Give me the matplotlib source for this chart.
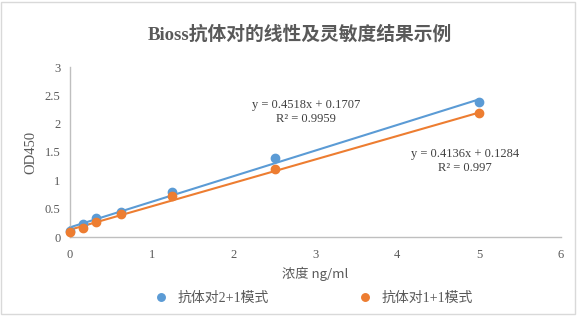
import matplotlib
matplotlib.use("Agg")
import matplotlib.pyplot as plt
from matplotlib.patches import Rectangle
import numpy as np

title = "Bioss抗体对的线性及灵敏度结果示例"
x_label = "浓度 ng/ml"
y_label = "OD450"
conc = [0, 0.156, 0.3125, 0.625, 1.25, 2.5, 5]
series_names = ["抗体对2+1模式", "抗体对1+1模式"]
od_21 = [0.11, 0.23, 0.33, 0.45, 0.80, 1.39, 2.39]
od_11 = [0.08, 0.165, 0.26, 0.41, 0.72, 1.20, 2.18]
slopes = [0.4518, 0.4136]
intercepts = [0.1707, 0.1284]
r2_labels = ["0.9959", "0.997"]
x_ticks = [0, 1, 2, 3, 4, 5, 6]
y_ticks = [0, 0.5, 1, 1.5, 2, 2.5, 3]
y_tick_labels = ["0", "0.5", "1", "1.5", "2", "2.5", "3"]

colors = ["#5B9BD5", "#ED7D31"]
grey = "#595959"
serif_cjk = ["Liberation Serif", "Noto Sans CJK SC"]

fig = plt.figure(figsize=(5.77, 3.16), dpi=100)
fig.patches.append(Rectangle((0.002, 0.005), 0.994, 0.99, transform=fig.transFigure,
                             fill=False, edgecolor="#d9d9d9", linewidth=1))
ax = fig.add_axes([70/577, 1-237/316, (561-70)/577, (237-67)/316])

handles = []
for vals, c, m, b in zip([od_21, od_11], colors, slopes, intercepts):
    h, = ax.plot(conc, vals, 'o', color=c, markersize=6, linestyle='none',
                 clip_on=False, zorder=3)
    handles.append(h)
    xs = np.array([conc[0], conc[-1]])
    ax.plot(xs, m*xs + b, '-', color=c, linewidth=1.5, clip_on=False, zorder=2)

ax.set_xlim(0, 6)
ax.set_ylim(0, 3)
ax.set_xticks(x_ticks)
ax.set_yticks(y_ticks)
ax.set_yticklabels(y_tick_labels)
for s in ["top", "right"]:
    ax.spines[s].set_visible(False)
for s in ["left", "bottom"]:
    ax.spines[s].set_color("#bfbfbf")
    ax.spines[s].set_linewidth(1)
ax.tick_params(axis='both', length=0, labelsize=9, labelcolor=grey)
ax.tick_params(axis='x', pad=9)
ax.tick_params(axis='y', pad=7)
for lab in ax.get_xticklabels() + ax.get_yticklabels():
    lab.set_family(serif_cjk)

ax.set_xlabel(x_label, family=["Noto Sans CJK SC"], fontsize=9.5, color=grey, labelpad=4)
ax.set_ylabel(y_label, family=serif_cjk, fontsize=10.5, color=grey, labelpad=5)

fig.text(0.52, 1-34/316, title, ha='center', va='center', fontsize=13.5,
         fontweight='bold', color=grey, family=serif_cjk)

eq_texts = [f"y = {slopes[0]}x + {intercepts[0]}\nR² = {r2_labels[0]}",
            f"y = {slopes[1]}x + {intercepts[1]}\nR² = {r2_labels[1]}"]
fig.text(306/577, 1-112/316, eq_texts[0], ha='center', va='center', fontsize=9,
         color="#404040", family=serif_cjk, linespacing=1.3)
fig.text(465/577, 1-161/316, eq_texts[1], ha='center', va='center', fontsize=9,
         color="#404040", family=serif_cjk, linespacing=1.3)

leg = fig.legend(handles, series_names, loc='center', bbox_to_anchor=(313/577, 1-298/316),
                 ncol=2, frameon=False, prop={'family': serif_cjk, 'size': 10},
                 labelcolor=grey, columnspacing=6.3, handletextpad=0.6, handlelength=1.2,
                 markerscale=0.9)

fig.savefig("out.png", dpi=100)
